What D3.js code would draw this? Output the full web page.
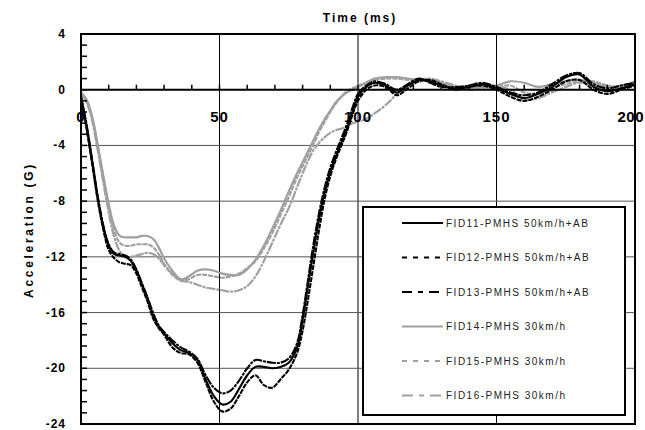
<!DOCTYPE html>
<meta charset="utf-8">
<script src="https://d3js.org/d3.v7.min.js"></script>
<style>
  body { margin: 0; background: #fff; }
  text { font-family: "Liberation Sans", Arial, sans-serif; }
</style>
<div id="chart"></div>
<script>

// time samples (ms)
var time = [0,2,4,6,8,10,12,14,16,18,20,22,24,26,28,30,33,36,39,42,45,48,51,54,57,60,63,66,69,72,75,78,80,82,84,86,88,90,92,94,96,98,100,103,106,110,114,118,122,126,130,135,140,145,150,155,160,165,170,175,180,185,190,195,200];

// acceleration (G)
var fid11 = [-0.5,-2.6,-5.1,-7.7,-9.8,-11.2,-11.8,-11.9,-12.0,-12.3,-13.0,-14.0,-15.0,-16.2,-17.0,-17.5,-18.2,-18.7,-18.9,-19.4,-20.8,-22.0,-22.6,-22.4,-21.5,-20.5,-19.9,-19.9,-20.0,-19.9,-19.6,-18.5,-16.5,-14.0,-11.5,-9.2,-7.3,-5.9,-4.8,-3.8,-2.8,-1.6,-0.5,0.2,0.5,0.3,-0.2,0.3,0.7,0.6,0.3,0.1,0.2,0.4,0.1,-0.3,-0.6,-0.3,0.2,0.9,1.1,0.2,-0.1,0.1,0.4];
var fid12 = [-0.5,-2.8,-5.3,-7.9,-10.0,-11.5,-12.1,-12.4,-12.5,-12.6,-13.2,-14.2,-15.2,-16.4,-17.1,-17.6,-18.5,-18.9,-19.0,-19.6,-21.0,-22.4,-23.1,-22.9,-22.0,-21.0,-20.5,-21.2,-21.4,-20.8,-20.1,-18.9,-17.3,-15.0,-12.5,-10.0,-7.8,-6.2,-5.0,-4.0,-3.0,-1.8,-0.8,0.0,0.3,0.2,-0.4,0.1,0.6,0.7,0.4,0.0,0.2,0.3,0.0,-0.5,-0.8,-0.5,0.0,0.6,0.7,0.0,-0.3,0.0,0.3];
var fid13 = [-0.5,-2.5,-5.0,-7.6,-9.7,-11.1,-11.7,-11.8,-11.9,-12.2,-12.9,-13.9,-14.9,-16.0,-16.9,-17.4,-18.0,-18.5,-18.8,-19.3,-20.5,-21.4,-21.8,-21.6,-20.9,-20.0,-19.4,-19.5,-19.6,-19.6,-19.3,-18.2,-16.2,-13.6,-11.0,-8.8,-7.0,-5.6,-4.5,-3.5,-2.5,-1.3,-0.3,0.3,0.6,0.4,0.0,0.4,0.8,0.5,0.2,0.2,0.3,0.5,0.2,-0.2,-0.4,-0.2,0.4,1.0,1.2,0.4,0.1,0.3,0.5];
var fid14 = [-0.2,-0.7,-1.9,-3.9,-6.1,-8.2,-9.8,-10.5,-10.6,-10.6,-10.6,-10.5,-10.5,-10.7,-11.3,-12.1,-13.0,-13.6,-13.4,-13.0,-12.9,-13.0,-13.2,-13.3,-13.3,-12.9,-12.2,-11.2,-10.0,-8.7,-7.3,-6.0,-5.2,-4.4,-3.6,-2.8,-2.1,-1.5,-0.9,-0.5,-0.2,0.0,0.2,0.5,0.8,0.9,0.9,0.8,0.7,0.7,0.5,0.2,0.2,0.2,0.3,0.6,0.5,0.2,0.4,0.6,0.7,0.5,0.2,0.3,0.5];
var fid15 = [-0.2,-0.8,-2.0,-4.0,-6.3,-8.4,-10.1,-11.0,-11.2,-11.2,-11.1,-11.1,-11.1,-11.3,-11.8,-12.5,-13.3,-13.7,-13.6,-13.3,-13.3,-13.4,-13.5,-13.4,-13.2,-12.8,-12.3,-11.4,-10.3,-9.0,-7.7,-6.3,-5.5,-4.7,-3.9,-3.0,-2.3,-1.6,-1.0,-0.5,-0.1,0.1,0.3,0.5,0.7,0.8,0.8,0.7,0.6,0.7,0.4,0.1,0.1,0.3,0.2,0.3,-0.2,-0.3,0.1,0.4,0.6,0.6,0.3,0.2,0.6];
var fid16 = [-0.2,-0.9,-2.2,-4.3,-6.6,-8.8,-10.6,-11.6,-12.0,-12.0,-11.9,-11.8,-11.7,-11.8,-12.1,-12.6,-13.2,-13.7,-13.8,-14.0,-14.2,-14.3,-14.4,-14.5,-14.4,-14.1,-13.4,-12.3,-11.0,-9.7,-8.5,-7.0,-6.0,-5.1,-4.3,-3.8,-3.4,-3.1,-2.9,-2.8,-2.6,-2.4,-2.3,-2.1,-1.7,-1.1,-0.3,0.4,0.7,0.8,0.6,0.3,0.0,0.1,0.2,0.0,-0.7,-0.6,-0.2,0.2,0.5,0.3,-0.1,0.2,0.6];

var seriesNames = ["FID11-PMHS 50km/h+AB","FID12-PMHS 50km/h+AB","FID13-PMHS 50km/h+AB","FID14-PMHS 30km/h","FID15-PMHS 30km/h","FID16-PMHS 30km/h"];
var seriesValues = [fid11, fid12, fid13, fid14, fid15, fid16];

var xTicks = [0, 50, 100, 150, 200];
var yTicks = [4, 0, -4, -8, -12, -16, -20, -24];

// line styles
var colors = ["#000","#000","#000","#a0a0a0","#a0a0a0","#a0a0a0"];
var plotDash = [null, "5,1", "9,1,3,1", null, "5,1", "9,1,3,1"];
var legendDash = [null, "5,6", "10,6,5,6", null, "5,6", "11,6,5,6"];

var width = 645, height = 430;
var margin = {left: 81, right: 635, top: 34, bottom: 424};

var svg = d3.select("#chart").append("svg")
  .attr("width", width)
  .attr("height", height);

var x = d3.scaleLinear().domain([0, 200]).range([margin.left, margin.right]);
var y = d3.scaleLinear().domain([-24, 4]).range([margin.bottom, margin.top]);

// grid
svg.append("g").selectAll("line")
  .data([50, 100, 150])
  .enter().append("line")
    .attr("x1", d => x(d)).attr("x2", d => x(d))
    .attr("y1", margin.top).attr("y2", margin.bottom)
    .attr("stroke", "#000").attr("stroke-width", 1);

svg.append("g").selectAll("line")
  .data([-4, -8, -12, -16, -20])
  .enter().append("line")
    .attr("x1", margin.left).attr("x2", margin.right)
    .attr("y1", d => y(d)).attr("y2", d => y(d))
    .attr("stroke", "#555").attr("stroke-width", 1);

// series
var line = d3.line()
  .x(d => x(d[0]))
  .y(d => y(d[1]))
  .curve(d3.curveCatmullRom.alpha(0.5));

var order = [3, 4, 5, 0, 1, 2];
order.forEach(function(i){
  svg.append("path")
    .datum(time.map((t, k) => [t, seriesValues[i][k]]))
    .attr("fill", "none")
    .attr("stroke", colors[i])
    .attr("stroke-width", i < 3 ? 2.1 : 2.2)
    .attr("stroke-dasharray", plotDash[i])
    .attr("d", line);
});

// zero line + minor ticks
svg.append("line")
  .attr("x1", margin.left).attr("x2", margin.right)
  .attr("y1", y(0)).attr("y2", y(0))
  .attr("stroke", "#000").attr("stroke-width", 2);

svg.append("g").selectAll("line")
  .data(d3.range(10, 200, 10))
  .enter().append("line")
    .attr("x1", d => x(d)).attr("x2", d => x(d))
    .attr("y1", y(0)).attr("y2", y(0) - 5)
    .attr("stroke", "#000").attr("stroke-width", 1.5);

svg.append("g").selectAll("line")
  .data(d3.range(0, 35).map(k => 4 - k * 0.8))
  .enter().append("line")
    .attr("x1", margin.left).attr("x2", margin.left + 6)
    .attr("y1", d => y(d)).attr("y2", d => y(d))
    .attr("stroke", "#000").attr("stroke-width", 1.5);

// frame
svg.append("rect")
  .attr("x", margin.left).attr("y", margin.top)
  .attr("width", margin.right - margin.left).attr("height", margin.bottom - margin.top)
  .attr("fill", "none").attr("stroke", "#000").attr("stroke-width", 2);

// tick labels
svg.append("g").selectAll("text")
  .data(yTicks)
  .enter().append("text")
    .attr("x", 66).attr("y", d => y(d) + 4)
    .attr("text-anchor", "end")
    .style("font-size", "12px").style("font-weight", "bold")
    .style("letter-spacing", "1px")
    .text(d => d);

svg.append("g").selectAll("text")
  .data(xTicks)
  .enter().append("text")
    .attr("x", d => d === 200 ? width - 1 : x(d))
    .attr("y", y(0) + 32)
    .attr("text-anchor", d => d === 200 ? "end" : "middle")
    .style("font-size", "15px").style("font-weight", "bold")
    .style("letter-spacing", d => d === 200 ? "0.5px" : "1px")
    .text(d => d);

// titles
svg.append("text")
  .attr("x", 360).attr("y", 22)
  .attr("text-anchor", "middle")
  .style("font-size", "12px").style("font-weight", "bold")
  .style("letter-spacing", "2px")
  .text("Time (ms)");

svg.append("text")
  .attr("transform", "translate(33,230) rotate(-90)")
  .attr("text-anchor", "middle")
  .style("font-size", "12px").style("font-weight", "bold")
  .style("letter-spacing", "2.7px")
  .text("Acceleration (G)");

// legend
var legend = svg.append("g");
legend.append("rect")
  .attr("x", 363).attr("y", 207)
  .attr("width", 262).attr("height", 208)
  .attr("fill", "#fff").attr("stroke", "#000").attr("stroke-width", 2);

seriesNames.forEach(function(name, i){
  var ly = 223 + i * 34.5;
  legend.append("line")
    .attr("x1", 402).attr("x2", 443)
    .attr("y1", ly).attr("y2", ly)
    .attr("stroke", colors[i]).attr("stroke-width", 2)
    .attr("stroke-dasharray", legendDash[i]);
  legend.append("text")
    .attr("x", 446).attr("y", ly + 3.5)
    .style("font-size", "10px")
    .style("letter-spacing", "1.5px")
    .attr("fill", "#222")
    .text(name);
});

</script>
